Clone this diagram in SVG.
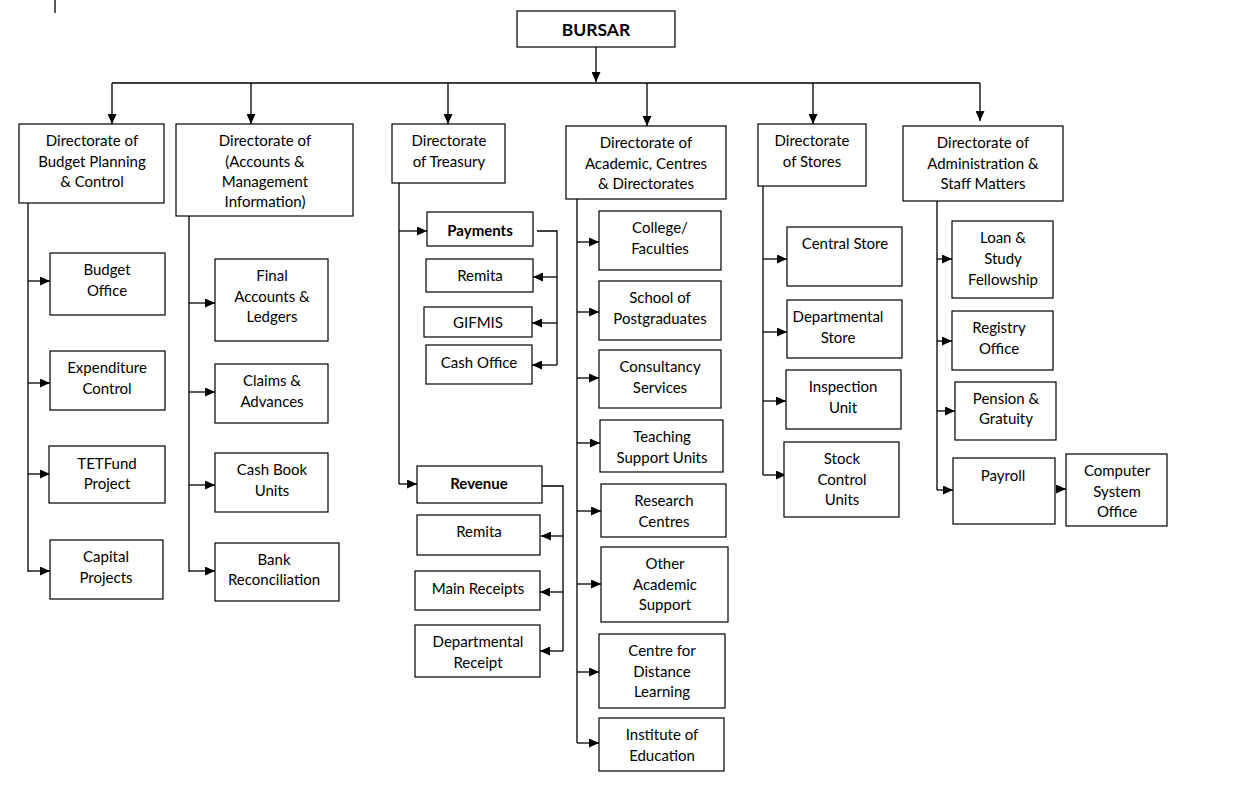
<svg xmlns="http://www.w3.org/2000/svg" width="1233" height="801" viewBox="0 0 1233 801">
<defs>
<marker id="ah" markerUnits="userSpaceOnUse" markerWidth="10" markerHeight="9" refX="10" refY="4.5" orient="auto">
<path d="M0,0 L10,4.5 L0,9 z" fill="#000"/>
</marker>
<style>
rect{fill:#fff;stroke:#000;stroke-width:1.2}
text{font-family:Lato,"Open Sans","Liberation Sans",sans-serif;font-size:15px;fill:#000;text-anchor:middle}
.b{font-weight:bold}
.t{font-size:17.5px}
#connectors path,#connectors line{fill:none;stroke:#000;stroke-width:1.3}
.a{marker-end:url(#ah)}
</style>
</defs>
<rect x="0" y="0" width="1233" height="801" style="stroke:none"/>
<g id="connectors">
<line x1="55" y1="0" x2="55" y2="13"/>
<line class="a" x1="596" y1="47" x2="596" y2="82"/>
<line x1="112" y1="83" x2="980" y2="83"/>
<line class="a" x1="112" y1="83" x2="112" y2="124"/>
<line class="a" x1="251" y1="83" x2="251" y2="124"/>
<line class="a" x1="448" y1="83" x2="448" y2="124"/>
<line class="a" x1="647" y1="83" x2="647" y2="126"/>
<line class="a" x1="813" y1="83" x2="813" y2="124"/>
<line class="a" x1="980" y1="83" x2="980" y2="121"/>
<line x1="28" y1="203" x2="28" y2="572"/>
<line class="a" x1="28" y1="281" x2="50" y2="281"/>
<line class="a" x1="28" y1="383" x2="50" y2="383"/>
<line class="a" x1="28" y1="474" x2="50" y2="474"/>
<line class="a" x1="28" y1="571" x2="50" y2="571"/>
<line x1="189" y1="216" x2="189" y2="572"/>
<line class="a" x1="189" y1="303" x2="215" y2="303"/>
<line class="a" x1="189" y1="392" x2="215" y2="392"/>
<line class="a" x1="189" y1="485" x2="215" y2="485"/>
<line class="a" x1="189" y1="571" x2="215" y2="571"/>
<line x1="399" y1="183" x2="399" y2="484"/>
<line class="a" x1="399" y1="231" x2="427" y2="231"/>
<line class="a" x1="399" y1="484" x2="417" y2="484"/>
<path d="M537,231 H557 V365"/>
<line class="a" x1="557" y1="277" x2="533" y2="277"/>
<line class="a" x1="557" y1="323" x2="532" y2="323"/>
<line class="a" x1="557" y1="365" x2="532" y2="365"/>
<path d="M542,486 H563 V651"/>
<line class="a" x1="563" y1="536" x2="541" y2="536"/>
<line class="a" x1="563" y1="592" x2="540" y2="592"/>
<line class="a" x1="563" y1="651" x2="540" y2="651"/>
<line x1="577" y1="199" x2="577" y2="743"/>
<line class="a" x1="577" y1="242" x2="599" y2="242"/>
<line class="a" x1="577" y1="312" x2="599" y2="312"/>
<line class="a" x1="577" y1="378" x2="599" y2="378"/>
<line class="a" x1="577" y1="443" x2="600" y2="443"/>
<line class="a" x1="577" y1="511" x2="601" y2="511"/>
<line class="a" x1="577" y1="584" x2="601" y2="584"/>
<line class="a" x1="577" y1="672" x2="599" y2="672"/>
<line class="a" x1="577" y1="743" x2="599" y2="743"/>
<line x1="763" y1="186" x2="763" y2="475"/>
<line class="a" x1="763" y1="259" x2="787" y2="259"/>
<line class="a" x1="763" y1="332" x2="787" y2="332"/>
<line class="a" x1="763" y1="401" x2="786" y2="401"/>
<line class="a" x1="763" y1="475" x2="786" y2="475"/>
<line x1="937" y1="201" x2="937" y2="490"/>
<line class="a" x1="937" y1="259" x2="952" y2="259"/>
<line class="a" x1="937" y1="341" x2="952" y2="341"/>
<line class="a" x1="937" y1="411" x2="955" y2="411"/>
<line class="a" x1="937" y1="490" x2="953" y2="490"/>
<line class="a" x1="1056" y1="489" x2="1066" y2="489"/>
</g>

<g id="bursar"><rect x="517" y="11" width="158" height="36"/><text class="b t" x="596" y="36">BURSAR</text></g>

<g id="dir-budget"><rect x="19" y="124" width="145" height="79"/>
<text x="92" y="146">Directorate of</text><text x="92" y="167">Budget Planning</text><text x="92" y="187">&amp; Control</text></g>
<g id="dir-accounts"><rect x="176" y="124" width="177" height="92"/>
<text x="265" y="146">Directorate of</text><text x="265" y="167">(Accounts &amp;</text><text x="265" y="187">Management</text><text x="265" y="207">Information)</text></g>
<g id="dir-treasury"><rect x="392" y="124" width="113" height="59"/>
<text x="449" y="146">Directorate</text><text x="449" y="167">of Treasury</text></g>
<g id="dir-academic"><rect x="566" y="126" width="160" height="73"/>
<text x="646" y="148">Directorate of</text><text x="646" y="169">Academic, Centres</text><text x="646" y="189">&amp; Directorates</text></g>
<g id="dir-stores"><rect x="758" y="124" width="108" height="62"/>
<text x="812" y="146">Directorate</text><text x="812" y="167">of Stores</text></g>
<g id="dir-admin"><rect x="903" y="126" width="160" height="75"/>
<text x="983" y="148">Directorate of</text><text x="983" y="169">Administration &amp;</text><text x="983" y="189">Staff Matters</text></g>

<g id="budget-office"><rect x="50" y="253" width="115" height="62"/><text x="107" y="275">Budget</text><text x="107" y="296">Office</text></g>
<g id="expenditure-control"><rect x="50" y="351" width="115" height="59"/><text x="107" y="373">Expenditure</text><text x="107" y="394">Control</text></g>
<g id="tetfund-project"><rect x="49" y="446" width="116" height="57"/><text x="107" y="469">TETFund</text><text x="107" y="489">Project</text></g>
<g id="capital-projects"><rect x="50" y="540" width="113" height="59"/><text x="106" y="562">Capital</text><text x="106" y="583">Projects</text></g>

<g id="final-accounts"><rect x="215" y="259" width="113" height="82"/><text x="272" y="281">Final</text><text x="272" y="302">Accounts &amp;</text><text x="272" y="322">Ledgers</text></g>
<g id="claims-advances"><rect x="215" y="364" width="113" height="59"/><text x="272" y="386">Claims &amp;</text><text x="272" y="407">Advances</text></g>
<g id="cash-book"><rect x="215" y="453" width="113" height="59"/><text x="272" y="475">Cash Book</text><text x="272" y="496">Units</text></g>
<g id="bank-reconciliation"><rect x="215" y="543" width="124" height="58"/><text x="274" y="565">Bank</text><text x="274" y="585">Reconciliation</text></g>

<g id="payments"><rect x="427" y="212" width="106" height="34"/><text class="b" x="480" y="236">Payments</text></g>
<g id="remita-pay"><rect x="426" y="259" width="107" height="33"/><text x="480" y="281">Remita</text></g>
<g id="gifmis"><rect x="424" y="307" width="108" height="30"/><text x="478" y="328">GIFMIS</text></g>
<g id="cash-office"><rect x="426" y="345" width="106" height="39"/><text x="479" y="368">Cash Office</text></g>

<g id="revenue"><rect x="417" y="466" width="125" height="37"/><text class="b" x="479" y="489">Revenue</text></g>
<g id="remita-rev"><rect x="417" y="515" width="123" height="40"/><text x="479" y="537">Remita</text></g>
<g id="main-receipts"><rect x="415" y="571" width="125" height="39"/><text x="478" y="594">Main Receipts</text></g>
<g id="departmental-receipt"><rect x="415" y="625" width="125" height="52"/><text x="478" y="647">Departmental</text><text x="478" y="668">Receipt</text></g>

<g id="college"><rect x="599" y="211" width="122" height="59"/><text x="660" y="233">College/</text><text x="660" y="254">Faculties</text></g>
<g id="postgraduates"><rect x="599" y="281" width="122" height="59"/><text x="660" y="303">School of</text><text x="660" y="324">Postgraduates</text></g>
<g id="consultancy"><rect x="599" y="350" width="122" height="58"/><text x="660" y="372">Consultancy</text><text x="660" y="393">Services</text></g>
<g id="teaching-support"><rect x="600" y="420" width="123" height="52"/><text x="662" y="442">Teaching</text><text x="662" y="463">Support Units</text></g>
<g id="research"><rect x="601" y="484" width="125" height="53"/><text x="664" y="506">Research</text><text x="664" y="527">Centres</text></g>
<g id="other-academic"><rect x="601" y="547" width="127" height="75"/><text x="665" y="569">Other</text><text x="665" y="590">Academic</text><text x="665" y="610">Support</text></g>
<g id="distance-learning"><rect x="599" y="634" width="126" height="74"/><text x="662" y="656">Centre for</text><text x="662" y="677">Distance</text><text x="662" y="697">Learning</text></g>
<g id="institute-education"><rect x="599" y="718" width="125" height="53"/><text x="662" y="740">Institute of</text><text x="662" y="761">Education</text></g>

<g id="central-store"><rect x="787" y="227" width="115" height="59"/><text x="845" y="249">Central Store</text></g>
<g id="departmental-store"><rect x="787" y="300" width="115" height="58"/><text x="838" y="322">Departmental</text><text x="838" y="343">Store</text></g>
<g id="inspection-unit"><rect x="786" y="370" width="115" height="59"/><text x="843" y="392">Inspection</text><text x="843" y="413">Unit</text></g>
<g id="stock-control"><rect x="784" y="442" width="115" height="75"/><text x="842" y="464">Stock</text><text x="842" y="485">Control</text><text x="842" y="505">Units</text></g>

<g id="loan-study"><rect x="952" y="221" width="101" height="77"/><text x="1003" y="243">Loan &amp;</text><text x="1003" y="264">Study</text><text x="1003" y="285">Fellowship</text></g>
<g id="registry"><rect x="952" y="311" width="101" height="59"/><text x="999" y="333">Registry</text><text x="999" y="354">Office</text></g>
<g id="pension"><rect x="955" y="382" width="101" height="58"/><text x="1006" y="404">Pension &amp;</text><text x="1006" y="424">Gratuity</text></g>
<g id="payroll"><rect x="953" y="458" width="102" height="66"/><text x="1003" y="481">Payroll</text></g>
<g id="computer-system"><rect x="1066" y="454" width="101" height="72"/><text x="1117" y="476">Computer</text><text x="1117" y="497">System</text><text x="1117" y="517">Office</text></g>
</svg>
